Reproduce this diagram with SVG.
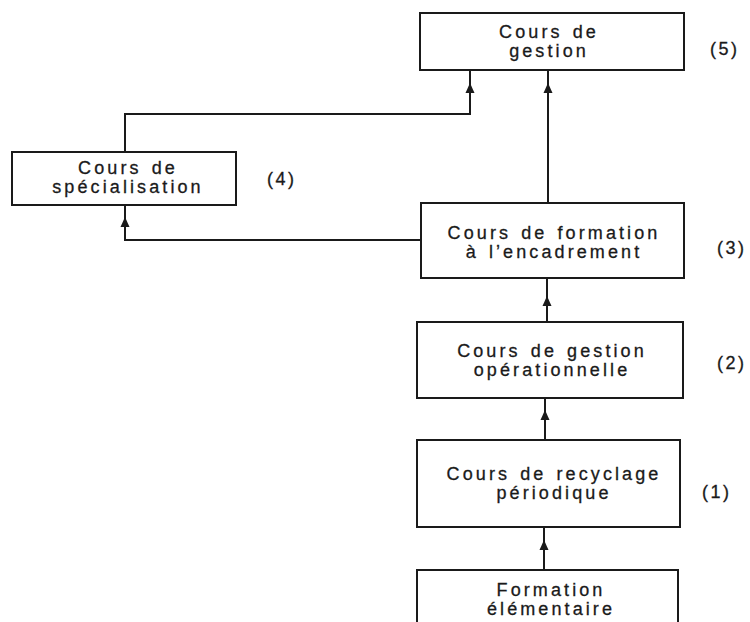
<svg xmlns="http://www.w3.org/2000/svg" width="750" height="622" viewBox="0 0 750 622">
<style>
.box{fill:#fff;stroke:#1a1a1a;stroke-width:2}
.t{font-family:"Liberation Sans",Arial,sans-serif;font-size:18px;letter-spacing:3.1px;word-spacing:2px;fill:#1a1a1a;stroke:#1a1a1a;stroke-width:0.3;text-anchor:middle}
.n{font-family:"Liberation Sans",Arial,sans-serif;font-size:18px;letter-spacing:2.5px;fill:#1a1a1a;stroke:#1a1a1a;stroke-width:0.3}
.c{fill:none;stroke:#1a1a1a;stroke-width:2;marker-end:url(#ah)}
</style>
<defs>
<marker id="ah" markerUnits="userSpaceOnUse" viewBox="0 0 12 12" markerWidth="12" markerHeight="12" refX="10" refY="6" orient="auto">
<path d="M0,1.5 L10,6 L0,10.5 z" fill="#1a1a1a"/>
</marker>
</defs>
<rect width="750" height="622" fill="#fff"/>
<g id="connectors">
<path class="c" d="M470,70 V83 M125,152 V114 H470 V83"/>
<path class="c" d="M548,70 V83 M548,203 V83"/>
<path class="c" d="M125,205 V217 M420,240 H125 V217"/>
<path class="c" d="M547,278 V296 M547,322 V296"/>
<path class="c" d="M545,398 V410 M545,440 V410"/>
<path class="c" d="M544,527 V540 M544,570 V540"/>
</g>
<g id="n5">
<rect class="box" x="420" y="13" width="264" height="57"/>
<text class="t" x="549" y="37.5">Cours de</text>
<text class="t" x="549" y="56.5">gestion</text>
<text class="n" x="710" y="55">(5)</text>
</g>
<g id="n4">
<rect class="box" x="12" y="152" width="224" height="53"/>
<text class="t" x="128" y="174">Cours de</text>
<text class="t" x="128" y="193">spécialisation</text>
<text class="n" x="267" y="185">(4)</text>
</g>
<g id="n3">
<rect class="box" x="421" y="203" width="263" height="75"/>
<text class="t" x="554" y="239">Cours de formation</text>
<text class="t" x="554" y="258">à l’encadrement</text>
<text class="n" x="717" y="254">(3)</text>
</g>
<g id="n2">
<rect class="box" x="417" y="322" width="266" height="76"/>
<text class="t" x="552" y="357">Cours de gestion</text>
<text class="t" x="552" y="376">opérationnelle</text>
<text class="n" x="717" y="369">(2)</text>
</g>
<g id="n1">
<rect class="box" x="417" y="440" width="263" height="87"/>
<text class="t" x="554" y="480">Cours de recyclage</text>
<text class="t" x="554" y="499">périodique</text>
<text class="n" x="702" y="498">(1)</text>
</g>
<g id="n0">
<rect class="box" x="417" y="570" width="261" height="70"/>
<text class="t" x="551" y="596">Formation</text>
<text class="t" x="551" y="615">élémentaire</text>
</g>
</svg>
